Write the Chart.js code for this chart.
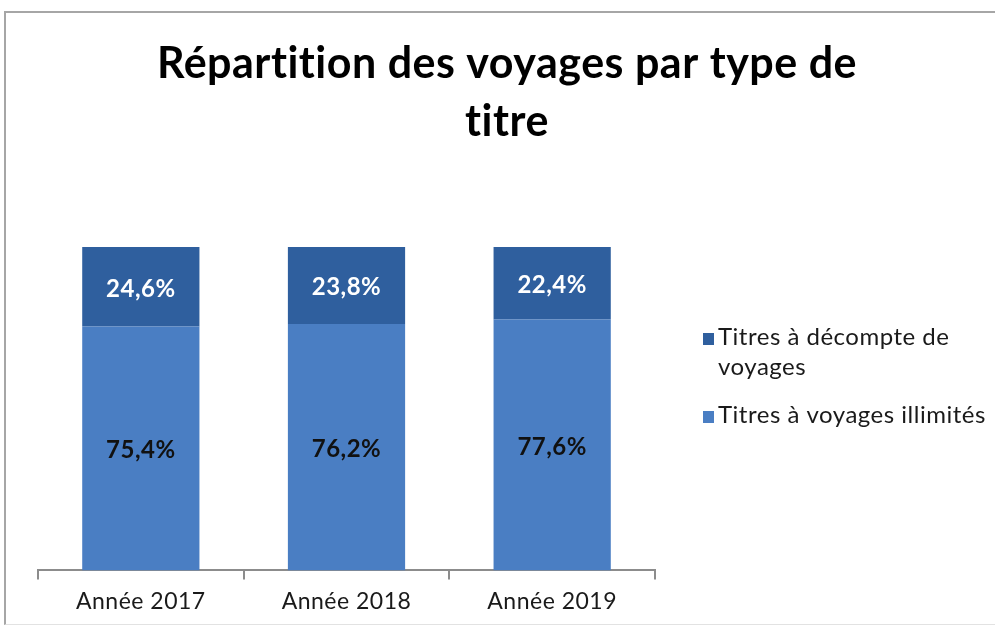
<!DOCTYPE html>
<html><head><meta charset="utf-8">
<script src="https://cdn.jsdelivr.net/npm/chart.js@4.4.1/dist/chart.umd.min.js"></script>
<style>
html,body{margin:0;padding:0;background:#fff;}
#wrap{position:relative;width:995px;height:630px;overflow:hidden;}
#frame{position:absolute;left:4px;top:11px;width:1000px;height:611px;border-left:2px solid #a6a6a6;border-top:2px solid #a6a6a6;border-bottom:1px solid #e2e2e2;pointer-events:none;}
canvas{position:absolute;left:0;top:0;}
</style></head><body>
<div id="wrap"><canvas id="c" width="995" height="630"></canvas><div id="frame"></div></div>
<script>
const categories = ['Année 2017', 'Année 2018', 'Année 2019'];
const illimites = [75.4, 76.2, 77.6];
const decompte = [24.6, 23.8, 22.4];
const seriesNames = ['Titres à voyages illimités', 'Titres à décompte de voyages'];
const titleLines = ['Répartition des voyages par type de', 'titre'];

const textSetup = {
  id: 'textSetup',
  beforeDraw(chart) {
    if ('letterSpacing' in chart.ctx) chart.ctx.letterSpacing = '0.5px';
  }
};

const valueLabels = {
  id: 'valueLabels',
  afterDatasetsDraw(chart) {
    const ctx = chart.ctx;
    chart.data.datasets.forEach((ds, i) => {
      const meta = chart.getDatasetMeta(i);
      meta.data.forEach((el, j) => {
        const p = el.getProps(['x', 'y', 'base'], true);
        ctx.save();
        ctx.font = 'bold 24px Lato';
        ctx.fillStyle = ds.labelColor;
        ctx.textAlign = 'center';
        ctx.textBaseline = 'middle';
        ctx.fillText(ds.data[j].toFixed(1).replace('.', ',') + '%', p.x, (p.y + p.base) / 2 + 2);
        ctx.restore();
      });
    });
  }
};

const sideLegend = {
  id: 'sideLegend',
  afterDraw(chart) {
    const ctx = chart.ctx;
    const ca = chart.chartArea;
    const x0 = ca.right + 63;
    const order = [1, 0];
    let y = 345;
    ctx.save();
    ctx.font = '24px Lato';
    ctx.textBaseline = 'alphabetic';
    ctx.textAlign = 'left';
    order.forEach(i => {
      const ds = chart.data.datasets[i];
      const words = ds.label.split(' ');
      const lines = [];
      let cur = '';
      words.forEach(w => {
        const t = cur ? cur + ' ' + w : w;
        if (ctx.measureText(t).width > 290 && cur) { lines.push(cur); cur = w; } else cur = t;
      });
      if (cur) lines.push(cur);
      ctx.fillStyle = ds.backgroundColor;
      ctx.fillRect(x0 - 15, y - 12, 11, 12);
      ctx.fillStyle = '#1a1a1a';
      lines.forEach((l, k) => ctx.fillText(l, x0, y + k * 30));
      y += (lines.length - 1) * 30 + 48;
    });
    ctx.restore();
  }
};

new Chart(document.getElementById('c'), {
  type: 'bar',
  data: {
    labels: categories,
    datasets: [
      { label: seriesNames[0], data: illimites, backgroundColor: '#4A7EC3', labelColor: '#111', borderWidth: 0 },
      { label: seriesNames[1], data: decompte, backgroundColor: '#2F5F9E', labelColor: '#fff', borderWidth: 0 }
    ]
  },
  options: {
    responsive: false,
    animation: false,
    events: [],
    layout: { padding: { left: 38, right: 19, top: 0, bottom: 7 } },
    datasets: { bar: { barPercentage: 0.57, categoryPercentage: 1 } },
    plugins: {
      legend: { display: false },
      tooltip: { enabled: false },
      title: {
        display: true,
        text: titleLines,
        color: '#000',
        font: { family: 'Lato', size: 43, weight: 'bold', lineHeight: 1.349 },
        padding: { top: 35, bottom: 96 }
      }
    },
    scales: {
      x: {
        stacked: true,
        grid: { display: true, drawOnChartArea: false, drawTicks: true, tickLength: 9, color: '#8c8c8c', lineWidth: 2 },
        border: { display: true, color: '#8c8c8c', width: 2 },
        ticks: { color: '#1a1a1a', font: { family: 'Lato', size: 23 }, padding: 8 }
      },
      y: {
        stacked: true, min: 0, max: 100, position: 'right',
        ticks: { display: false }, grid: { display: false }, border: { display: false },
        afterFit(s) { s.width = 321; }
      }
    }
  },
  plugins: [textSetup, valueLabels, sideLegend]
});
</script>
</body></html>
